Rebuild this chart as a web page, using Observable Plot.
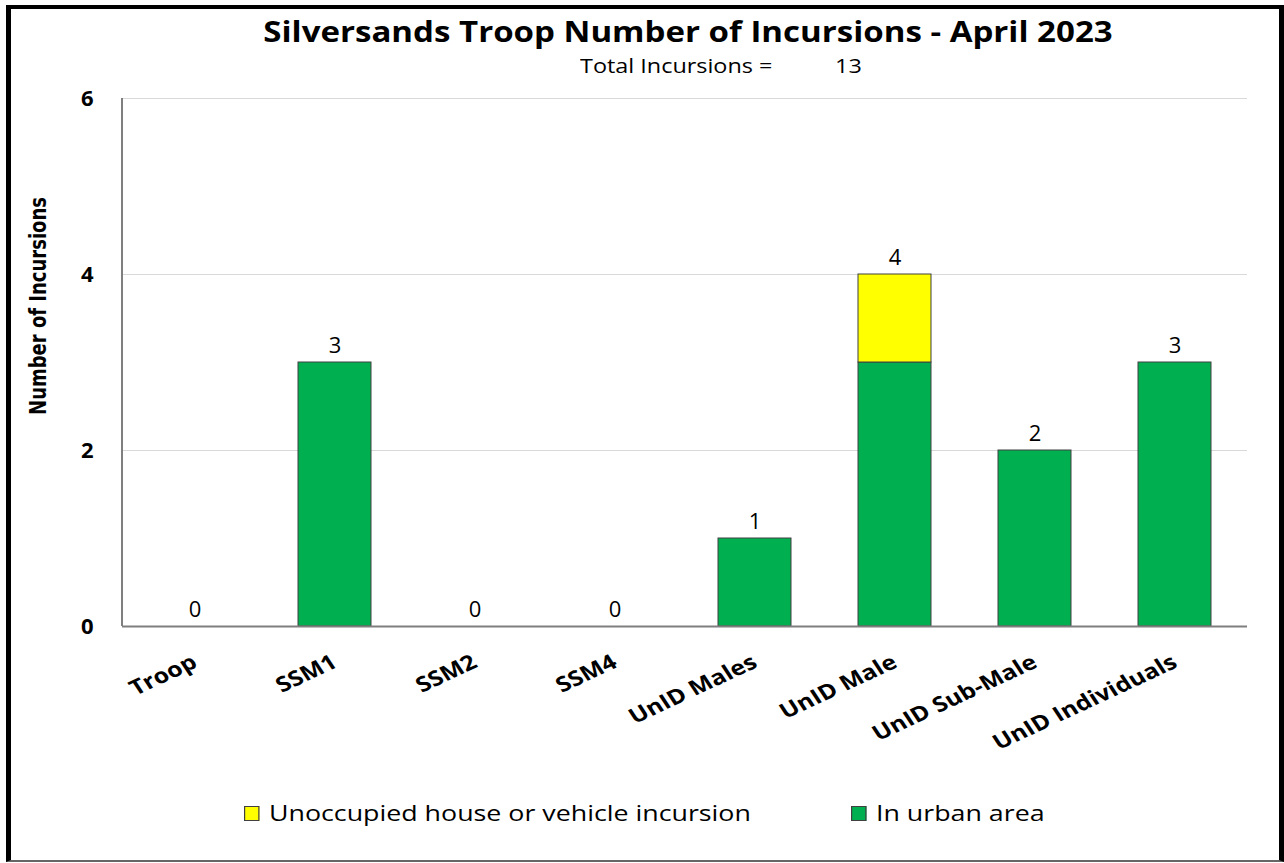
<!DOCTYPE html>
<html>
<head>
<meta charset="utf-8">
<script src="https://cdn.jsdelivr.net/npm/d3@7"></script>
<script src="https://cdn.jsdelivr.net/npm/@observablehq/plot@0.6"></script>
<style>
  html, body { margin: 0; padding: 0; background: #fff; }
  body { width: 1284px; height: 863px; position: relative; overflow: hidden; font-family: "Open Sans", sans-serif; }
  #frame { position: absolute; left: 6px; top: 5px; width: 1278px; height: 857px; box-sizing: border-box;
           border-left: 5px solid #000; border-top: 4px solid #000; border-right: 5px solid #000; border-bottom: 2px solid #666; }
  #title { position: absolute; left: 0; width: 1376px; top: 12px; text-align: center; font-weight: bold; font-size: 28px; color: #000; line-height: 38px;
           transform: scaleX(1.18); transform-origin: 688px 0; }
  #subtitle { position: absolute; left: 580px; top: 52px; font-size: 20px; color: #000; white-space: pre; line-height: 28px;
              transform: scaleX(1.17); transform-origin: 0 0; }
  #chart { position: absolute; left: 0; top: 0; }
  #legend { position: absolute; top: 798px; left: 0; width: 1284px; font-size: 22.5px; color: #000; line-height: 30px; }
  .item { position: absolute; display: flex; align-items: center; white-space: nowrap; transform: scaleX(1.19); transform-origin: 0 0; }
  .sw { width: 13px; height: 15px; box-sizing: border-box; border: 1px solid #404040; margin-right: 8px; }
</style>
</head>
<body>
<div id="frame"></div>
<div id="title"></div>
<div id="subtitle"></div>
<div id="chart"></div>
<div id="legend"></div>
<script>
const titleText = "Silversands Troop Number of Incursions - April 2023";
const subtitleLabel = "Total Incursions =";
const totalIncursions = 13;

const categories = ["Troop", "SSM1", "SSM2", "SSM4", "UnID Males", "UnID Male", "UnID Sub-Male", "UnID Individuals"];
const seriesNames = ["In urban area", "Unoccupied house or vehicle incursion"];
const urbanValues = [0, 3, 0, 0, 1, 3, 2, 3];
const unoccupiedValues = [0, 0, 0, 0, 0, 1, 0, 0];
const seriesColors = ["#00B050", "#FFFF00"];
const yTicks = [0, 2, 4, 6];
const yLabel = "Number of Incursions";

document.getElementById("title").textContent = titleText;
document.getElementById("subtitle").innerHTML = subtitleLabel + '<span style="position:absolute;left:218px;">' + totalIncursions + '</span>';

const rows = [];
categories.forEach((c, i) => {
  rows.push({category: c, series: seriesNames[0], value: urbanValues[i]});
  rows.push({category: c, series: seriesNames[1], value: unoccupiedValues[i]});
});
const totals = categories.map((c, i) => ({category: c, total: urbanValues[i] + unoccupiedValues[i]}));

const plot = Plot.plot({
  width: 1284,
  height: 760,
  marginLeft: 122,
  marginRight: 37,
  marginTop: 98,
  marginBottom: 134,
  style: {fontFamily: "'Open Sans', sans-serif", background: "transparent", overflow: "visible"},
  x: {domain: categories, paddingInner: 0.48, paddingOuter: 0.24, label: null},
  y: {domain: [0, 6], label: null},
  color: {domain: seriesNames, range: seriesColors},
  marks: [
    Plot.gridY(yTicks.filter(d => d > 0), {stroke: "#d9d9d9", strokeOpacity: 1, strokeWidth: 1}),
    Plot.barY(rows, Plot.stackY({order: seriesNames}, {x: "category", y: "value", fill: "series", stroke: "#404040", strokeWidth: 1})),
    Plot.ruleY([0], {stroke: "#7f7f7f", strokeWidth: 2}),
    Plot.text(totals, {x: "category", y: "total", text: d => String(d.total), dy: -17, fontSize: 22, fill: "#000"}),
    Plot.axisY({ticks: yTicks, tickSize: 0, tickPadding: 29, fontSize: 22, fontWeight: "bold", tickFormat: d => String(d), label: null}),
    Plot.axisX({tickSize: 0, tickPadding: 34, tickRotate: -29, fontSize: 21, fontWeight: "bold", label: null})
  ]
});
document.getElementById("chart").appendChild(plot);

const svg = d3.select(plot);
// horizontally stretched rotated tick labels, as in the reference
svg.selectAll('g[aria-label="x-axis tick label"] text').each(function() {
  const t = this.getAttribute("transform") || "";
  if (t.includes("rotate(")) this.setAttribute("transform", t.replace("rotate(", "scale(1.19,1) rotate("));
});
// y-axis vertical line at the left edge of the plot frame
svg.append("line").attr("x1", 122).attr("x2", 122).attr("y1", 98).attr("y2", 626).attr("stroke", "#7f7f7f").attr("stroke-width", 2);
svg.append("text").text(yLabel)
  .attr("transform", "translate(46,306) scale(1.15,1) rotate(-90)")
  .attr("text-anchor", "middle")
  .attr("font-family", "'DejaVu Sans Condensed', 'DejaVu Sans', sans-serif")
  .attr("font-stretch", "condensed")
  .attr("font-weight", "bold")
  .attr("font-size", 20)
  .attr("fill", "#000");

const legend = document.getElementById("legend");
const legendItems = [
  {name: seriesNames[1], color: seriesColors[1], left: 244},
  {name: seriesNames[0], color: seriesColors[0], left: 851}
];
legendItems.forEach(it => {
  const d = document.createElement("div");
  d.className = "item";
  d.style.left = it.left + "px";
  d.innerHTML = '<span class="sw" style="background:' + it.color + '"></span><span>' + it.name + '</span>';
  legend.appendChild(d);
});
</script>
</body>
</html>
